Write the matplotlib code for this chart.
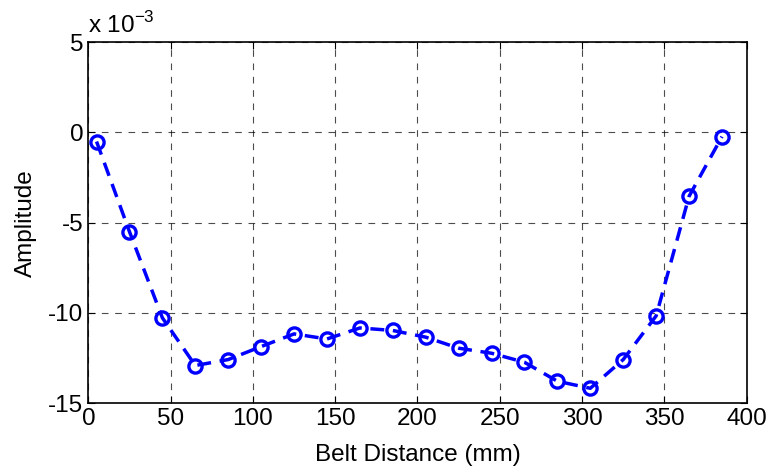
import numpy as np
import matplotlib.pyplot as plt

plt.rcParams['font.family'] = ['Liberation Sans', 'DejaVu Sans']

# Datos
distance = [5, 25, 45, 65, 85, 105, 125, 145, 165, 185,
            205, 225, 245, 265, 285, 305, 325, 345, 365, 385]
amplitude_e3 = [-0.51, -5.5, -10.27, -12.91, -12.58, -11.86, -11.16, -11.44, -10.83, -10.97,
                -11.34, -11.95, -12.23, -12.73, -13.78, -14.17, -12.58, -10.16, -3.54, -0.24]
amplitude = np.array(amplitude_e3) * 1e-3

fig = plt.figure(figsize=(7.7, 4.73), dpi=100)
ax = fig.add_axes([0.1147, 0.1474, 0.855, 0.7638])

ax.plot(distance, amplitude, '--o', color='blue', lw=2.5,
        markersize=9.5, markerfacecolor='none', markeredgewidth=2.4, dashes=(4, 2.5))

ax.set_xlim(0, 400)
ax.set_ylim(-15e-3, 5e-3)
ax.set_xticks(np.arange(0, 401, 50))
ax.set_yticks(np.arange(-15e-3, 5.1e-3, 5e-3))
ax.set_yticklabels(['-15', '-10', '-5', '0', '5'])
ax.grid(True, color='black', linestyle=(0, (6, 6)), linewidth=0.8, alpha=0.7)
ax.tick_params(direction='in', labelsize=17.5, top=True, right=True, length=5)
for s in ax.spines.values():
    s.set_linewidth(1.2)

ax.set_xlabel('Belt Distance (mm)', fontsize=17.5, labelpad=10)
ax.set_ylabel('Amplitude', fontsize=17.5, labelpad=8)
ax.text(0.0, 1.01, r'x 10$^{\mathregular{-3}}$', transform=ax.transAxes, fontsize=17.5,
        ha='left', va='bottom')

fig.savefig('out.png', dpi=100)
